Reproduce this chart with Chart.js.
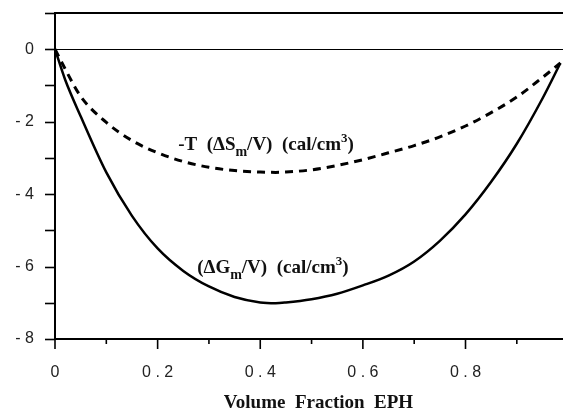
<!DOCTYPE html>
<html>
<head>
<meta charset="utf-8">
<script src="https://cdn.jsdelivr.net/npm/chart.js@4.4.1/dist/chart.umd.min.js"></script>
<style>
  html, body { margin: 0; padding: 0; background: #fff; }
  canvas { display: block; }
</style>
</head>
<body>
<canvas id="mixChart" width="563" height="414"></canvas>
<script>
// volume fraction of EPH
const fraction = [0, 0.02, 0.05, 0.1, 0.15, 0.2, 0.25, 0.3, 0.35, 0.4, 0.43, 0.45, 0.5, 0.55, 0.6, 0.65, 0.7, 0.75, 0.8, 0.85, 0.9, 0.95, 0.985];
// (dGm/V) cal/cm3
const freeEnergy = [0, -0.85, -1.85, -3.4, -4.6, -5.5, -6.12, -6.55, -6.84, -6.99, -7.01, -6.99, -6.9, -6.75, -6.52, -6.25, -5.86, -5.29, -4.56, -3.66, -2.61, -1.36, -0.38];
// -T (dSm/V) cal/cm3
const entropyTerm = [0, -0.55, -1.3, -2.02, -2.52, -2.86, -3.1, -3.26, -3.35, -3.39, -3.4, -3.39, -3.33, -3.21, -3.05, -2.86, -2.66, -2.42, -2.12, -1.75, -1.32, -0.78, -0.38];

const yTicks = [1, 0, -1, -2, -3, -4, -5, -6, -7, -8];

function toPoints(xs, ys) {
    return xs.map((x, i) => ({ x: x, y: ys[i] }));
}

// tick marks outside the axes, long on labelled x ticks
const tickMarks = {
    id: 'tickMarks',
    afterDraw(chart) {
        const ctx = chart.ctx;
        const xs = chart.scales.x;
        const ys = chart.scales.y;
        const area = chart.chartArea;
        ctx.save();
        ctx.strokeStyle = '#000';
        ctx.lineWidth = 1.6;
        ys.ticks.forEach(t => {
            const y = Math.round(ys.getPixelForValue(t.value)) + 0.5;
            ctx.beginPath();
            ctx.moveTo(area.left - 10, y);
            ctx.lineTo(area.left, y);
            ctx.stroke();
        });
        xs.ticks.forEach(t => {
            const x = xs.getPixelForValue(t.value);
            const major = Math.round(t.value * 10) % 2 === 0;
            ctx.beginPath();
            ctx.moveTo(x, area.bottom);
            ctx.lineTo(x, area.bottom + (major ? 10 : 5));
            ctx.stroke();
        });
        ctx.restore();
    }
};

// curve labels with sub/superscripts
function drawRich(ctx, x, y, parts) {
    parts.forEach(p => {
        let size = 19, dy = 0;
        if (p.sub) { size = 14; dy = 6; }
        if (p.sup) { size = 13; dy = -8; }
        ctx.font = 'bold ' + size + 'px "Liberation Serif", "Times New Roman", serif';
        ctx.fillText(p.t, x, y + dy);
        x += ctx.measureText(p.t).width;
    });
}

const curveLabels = {
    id: 'curveLabels',
    afterDraw(chart) {
        const ctx = chart.ctx;
        const xs = chart.scales.x;
        const ys = chart.scales.y;
        ctx.save();
        ctx.fillStyle = '#111';
        ctx.textBaseline = 'alphabetic';
        ctx.textAlign = 'left';
        drawRich(ctx, xs.getPixelForValue(0.24), ys.getPixelForValue(-2.79), [
            { t: '-T  (\u0394S' }, { t: 'm', sub: true }, { t: '/V)  (cal/cm' }, { t: '3', sup: true }, { t: ')' }
        ]);
        drawRich(ctx, xs.getPixelForValue(0.277), ys.getPixelForValue(-6.19), [
            { t: '(\u0394G' }, { t: 'm', sub: true }, { t: '/V)  (cal/cm' }, { t: '3', sup: true }, { t: ')' }
        ]);
        ctx.restore();
    }
};

const ctx = document.getElementById('mixChart').getContext('2d');
new Chart(ctx, {
    type: 'line',
    data: {
        datasets: [{
            label: 'dGm/V',
            data: toPoints(fraction, freeEnergy),
            borderColor: '#000',
            borderWidth: 2.5,
            pointRadius: 0,
            cubicInterpolationMode: 'monotone',
            fill: false
        }, {
            label: '-T dSm/V',
            data: toPoints(fraction, entropyTerm),
            borderColor: '#000',
            borderWidth: 3,
            borderDash: [8, 6],
            pointRadius: 0,
            cubicInterpolationMode: 'monotone',
            fill: false
        }]
    },
    options: {
        responsive: false,
        animation: false,
        layout: { padding: { top: 13, left: 0, right: 0, bottom: 0 } },
        plugins: {
            legend: { display: false },
            tooltip: { enabled: false }
        },
        scales: {
            x: {
                type: 'linear',
                min: 0,
                max: 0.99,
                afterFit: s => { s.height = 75; s.paddingLeft = 0; s.paddingRight = 0; },
                grid: { display: false, drawTicks: false },
                border: { display: true, color: '#000', width: 2 },
                ticks: {
                    stepSize: 0.1,
                    includeBounds: false,
                    autoSkip: false,
                    maxRotation: 0,
                    padding: 24,
                    color: '#222',
                    font: { family: '"Liberation Sans", Arial, sans-serif', size: 16 },
                    callback: v => {
                        if (Math.round(v * 10) % 2 !== 0) return '';
                        return v === 0 ? '0' : v.toFixed(1).split('').join(' ');
                    }
                },
                title: {
                    display: true,
                    // leading spaces nudge it right like the original
                    text: '    Volume  Fraction  EPH',
                    color: '#111',
                    font: { family: '"Liberation Serif", "Times New Roman", serif', size: 19, weight: 'bold' },
                    padding: { top: 0, bottom: 0 }
                }
            },
            y: {
                min: -8,
                max: 1,
                afterFit: s => { s.width = 55; s.paddingTop = 0; s.paddingBottom = 0; },
                afterBuildTicks: s => { s.ticks = yTicks.map(v => ({ value: v })); },
                grid: {
                    drawTicks: false,
                    color: c => (c.tick && (c.tick.value === 0 || c.tick.value === 1)) ? '#000' : 'rgba(0,0,0,0)',
                    lineWidth: c => (c.tick && c.tick.value === 1) ? 2 : 1
                },
                border: { display: true, color: '#000', width: 2 },
                ticks: {
                    autoSkip: false,
                    padding: 21,
                    color: '#222',
                    font: { family: '"Liberation Sans", Arial, sans-serif', size: 16 },
                    callback: v => {
                        if (v > 0 || v % 2 !== 0) return '';
                        return v === 0 ? '0' : '- ' + Math.abs(v);
                    }
                }
            }
        }
    },
    plugins: [tickMarks, curveLabels]
});
</script>
</body>
</html>
